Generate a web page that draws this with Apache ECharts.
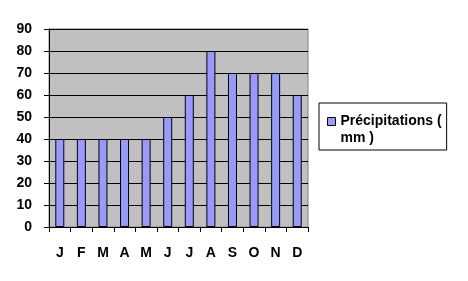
<!DOCTYPE html>
<html>
<head>
<meta charset="utf-8">
<script src="https://cdn.jsdelivr.net/npm/echarts@6/dist/echarts.min.js"></script>
<style>
  html, body { margin: 0; padding: 0; background: #fff; }
  #chart { width: 468px; height: 281px; }
</style>
</head>
<body>
<div id="chart"></div>
<script>
// mois (initiales) et précipitations en mm
var months = ['J', 'F', 'M', 'A', 'M', 'J', 'J', 'A', 'S', 'O', 'N', 'D'];
var rain = [40, 40, 40, 40, 40, 50, 60, 80, 70, 70, 70, 60];
var seriesName = 'Précipitations ( mm )';

var font = 'Arial, "Liberation Sans", sans-serif';

var chart = echarts.init(document.getElementById('chart'));

chart.setOption({
  animation: false,
  grid: {
    left: 49, top: 29, width: 259, height: 198,
    show: true,
    backgroundColor: '#C0C0C0',
    borderColor: '#808080',
    borderWidth: 1
  },
  legend: {
    left: 319, top: 103,
    orient: 'vertical',
    data: [seriesName],
    icon: 'rect',
    itemWidth: 8, itemHeight: 8,
    borderColor: '#000', borderWidth: 1,
    padding: [-7, 5, 3, 8],
    // ligne vide en tête pour aligner le carré sur la 1re ligne
    formatter: function () { return ' \nPrécipitations (\nmm )'; },
    textStyle: {
      fontFamily: font, fontSize: 14, fontWeight: 'bold', color: '#000',
      lineHeight: 17
    },
    itemStyle: { borderColor: '#000', borderWidth: 1 }
  },
  xAxis: {
    type: 'category',
    data: months,
    axisLine: { lineStyle: { color: '#000' } },
    axisTick: { show: true, length: 5, lineStyle: { color: '#000' } },
    axisLabel: { margin: 19, fontFamily: font, fontSize: 14, fontWeight: 'bold', color: '#000', interval: 0 }
  },
  yAxis: {
    type: 'value',
    min: 0, max: 90, interval: 10,
    axisLine: { show: true, lineStyle: { color: '#000' } },
    axisTick: { show: true, length: 5, lineStyle: { color: '#000' } },
    axisLabel: { margin: 17, fontFamily: font, fontSize: 14, fontWeight: 'bold', color: '#000' },
    splitLine: { lineStyle: { color: '#000', width: 1 } }
  },
  series: [{
    name: seriesName,
    type: 'bar',
    data: rain,
    barWidth: 9,
    itemStyle: { color: '#9999FF', borderColor: '#000', borderWidth: 1 }
  }]
});
</script>
</body>
</html>
